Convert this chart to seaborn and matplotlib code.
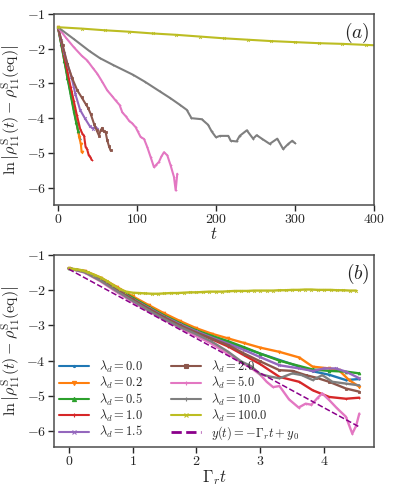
"""
Relaxation of rho_11^S towards equilibrium for several lambda_d
"""

import matplotlib
matplotlib.use('Agg')
import matplotlib.pyplot as plt
from matplotlib.lines import Line2D
import seaborn as sns

# ---------------- data: panel (a), raw time t ----------------
lam_labels = ['0.0', '0.2', '0.5', '1.0', '1.5', '2.0', '5.0', '10.0', '100.0']

t_blue = [0, 4, 8, 12, 16, 20, 24, 28]
y_blue = [-1.38, -1.85, -2.32, -2.80, -3.28, -3.74, -4.20, -4.61]
t_orange = [0, 4, 8, 12, 16, 20, 24, 27, 29, 30]
y_orange = [-1.38, -1.82, -2.30, -2.78, -3.25, -3.72, -4.20, -4.55, -4.75, -4.98]
t_green = [0, 4, 8, 12, 16, 20, 23, 25.7]
y_green = [-1.38, -1.86, -2.35, -2.85, -3.32, -3.80, -4.12, -4.38]
t_red = [0, 4, 8, 12, 16, 20, 24, 28, 31, 33, 35, 37, 39, 41, 42.6]
y_red = [-1.38, -1.78, -2.22, -2.66, -3.10, -3.50, -3.92, -4.30, -4.45, -4.50,
         -4.83, -4.90, -5.07, -5.12, -5.20]
t_purple = [0, 4, 8, 12, 17, 22, 28, 34, 40, 44, 47, 50]
y_purple = [-1.38, -1.75, -2.12, -2.45, -2.80, -3.30, -3.76, -4.00, -4.22, -4.30,
            -4.25, -4.30]
t_brown = [0, 6, 12, 18, 24.5, 30, 35, 38, 41.3, 45.6, 49, 51.9, 54, 56, 58, 60.3,
           62.4, 64.5, 66.6]
y_brown = [-1.38, -1.90, -2.44, -2.85, -3.20, -3.40, -3.59, -3.70, -3.87, -4.16,
           -4.35, -4.50, -4.35, -4.28, -4.38, -4.40, -4.64, -4.80, -4.93]
t_pink = [0, 10, 20.2, 30, 37.1, 44, 49.8, 56, 62.4, 68, 73, 78, 81.4, 86, 89.9, 94,
          98.3, 101, 104.6, 109, 113, 117.3, 121.5, 124, 127.8, 131, 134.2, 138.4,
          142.6, 146.8, 149, 151]
y_pink = [-1.38, -1.68, -1.96, -2.20, -2.34, -2.55, -2.72, -2.95, -3.20, -3.35,
          -3.49, -3.62, -3.83, -3.95, -4.07, -4.15, -4.26, -4.38, -4.54, -4.60,
          -4.83, -5.12, -5.41, -5.35, -5.26, -5.10, -4.98, -5.07, -5.36, -5.69,
          -6.08, -5.60]
t_gray = [0, 20, 40, 53, 70, 95, 110, 129, 142, 154, 163, 169, 182, 190, 194.5, 200,
          205, 215.6, 218.6, 226, 230, 239, 247, 251.5, 258, 268, 277.6, 285, 291.5,
          296.6, 300]
y_gray = [-1.38, -1.72, -2.07, -2.27, -2.47, -2.75, -2.95, -3.23, -3.42, -3.61,
          -3.76, -4.00, -4.03, -4.19, -4.38, -4.55, -4.51, -4.51, -4.65, -4.67,
          -4.51, -4.35, -4.59, -4.49, -4.59, -4.74, -4.59, -4.89, -4.74, -4.65, -4.72]
t_olive = [0, 30, 60, 90, 120, 150, 180, 210, 240, 270, 300, 330, 360, 390, 420]
y_olive = [-1.38, -1.42, -1.47, -1.51, -1.56, -1.60, -1.65, -1.70, -1.74, -1.78,
           -1.81, -1.84, -1.86, -1.89, -1.92]

# ---------------- data: panel (b), scaled time Gamma_r t ----------------
xb_a = [0, 0.25, 0.5, 0.75, 1.0, 1.25, 1.5, 1.75, 2.0, 2.25, 2.5, 2.75, 3.0, 3.3,
        3.61, 3.82, 4.08, 4.34, 4.55]
yb_blue = [-1.38, -1.46, -1.67, -1.95, -2.22, -2.48, -2.73, -2.95, -3.15, -3.32,
           -3.48, -3.64, -3.80, -3.98, -4.17, -4.30, -4.40, -4.55, -4.52]
yb_green = [-1.38, -1.46, -1.67, -1.94, -2.21, -2.47, -2.72, -2.94, -3.14, -3.30,
            -3.45, -3.62, -3.80, -4.00, -4.15, -4.25, -4.29, -4.31, -4.36]
yb_red = [-1.38, -1.47, -1.69, -1.98, -2.26, -2.52, -2.77, -3.00, -3.20, -3.40,
          -3.60, -3.85, -4.10, -4.46, -4.60, -4.84, -5.03, -5.08, -5.05]
xb_orange = [0, 0.25, 0.5, 0.75, 1.0, 1.25, 1.5, 1.75, 2.0, 2.25, 2.5, 2.75, 3.0, 3.3,
             3.61, 3.82, 4.08, 4.23, 4.39, 4.55]
yb_orange = [-1.38, -1.45, -1.64, -1.90, -2.17, -2.42, -2.66, -2.88, -3.08, -3.24,
             -3.37, -3.50, -3.63, -3.75, -3.91, -4.17, -4.22, -4.27, -4.55, -4.74]
xb_purple = [0, 0.25, 0.5, 0.75, 1.0, 1.25, 1.5, 1.75, 2.0, 2.25, 2.5, 2.75, 3.0, 3.3,
             3.61, 3.82, 4.0, 4.18, 4.34, 4.55]
yb_purple = [-1.38, -1.47, -1.69, -1.97, -2.25, -2.50, -2.75, -2.97, -3.17, -3.35,
             -3.52, -3.70, -3.90, -4.13, -4.22, -4.29, -4.22, -4.22, -4.31, -4.50]
xb_brown = [0, 0.25, 0.5, 0.75, 1.0, 1.25, 1.5, 1.75, 2.0, 2.25, 2.5, 2.75, 3.0, 3.3,
            3.51, 3.71, 3.87, 4.08, 4.34, 4.55]
yb_brown = [-1.38, -1.47, -1.69, -1.98, -2.26, -2.52, -2.77, -3.00, -3.20, -3.38,
            -3.56, -3.80, -4.02, -4.27, -4.29, -4.41, -4.48, -4.60, -4.79, -4.88]
xb_pink = [0, 0.25, 0.5, 0.75, 1.0, 1.25, 1.5, 1.75, 2.0, 2.25, 2.4, 2.55, 2.7, 2.85,
           3.0, 3.1, 3.2, 3.3, 3.45, 3.6, 3.71, 3.8, 3.9, 3.97, 4.08, 4.2, 4.34, 4.44,
           4.5, 4.55]
yb_pink = [-1.38, -1.50, -1.75, -2.05, -2.33, -2.60, -2.85, -3.08, -3.30, -3.53,
           -3.70, -3.88, -4.05, -4.20, -4.40, -4.60, -4.75, -4.72, -5.10, -5.33,
           -5.22, -5.25, -5.05, -4.93, -5.12, -5.35, -5.59, -6.07, -5.85, -5.50]
xb_gray = [0, 0.25, 0.5, 0.75, 1.0, 1.25, 1.5, 1.75, 2.0, 2.25, 2.5, 2.7, 2.85, 3.0,
           3.15, 3.3, 3.5, 3.65, 3.82, 3.97, 4.13, 4.34, 4.55]
yb_gray = [-1.38, -1.49, -1.73, -2.02, -2.30, -2.57, -2.82, -3.05, -3.25, -3.47,
           -3.75, -4.02, -4.15, -4.38, -4.45, -4.50, -4.36, -4.41, -4.55, -4.41,
           -4.60, -4.65, -4.70]
xb_olive = [0.0, 0.1, 0.2, 0.3, 0.4, 0.5, 0.6, 0.7, 0.8, 0.9, 1.0, 1.1, 1.2, 1.3, 1.4,
            1.5, 1.6, 1.7, 1.8, 1.9, 2.0, 2.1, 2.2, 2.3, 2.4, 2.5, 2.6, 2.7, 2.8, 2.9,
            3.0, 3.1, 3.2, 3.3, 3.4, 3.5, 3.6, 3.7, 3.8, 3.9, 4.0, 4.1, 4.2, 4.3, 4.4,
            4.5]
yb_olive = [-1.38, -1.40, -1.43, -1.49, -1.56, -1.64, -1.74, -1.86, -1.97, -2.04,
            -2.07, -2.08, -2.09, -2.10, -2.10, -2.09, -2.08, -2.08, -2.07, -2.06,
            -2.06, -2.05, -2.04, -2.04, -2.04, -2.03, -2.02, -2.02, -2.02, -2.01,
            -2.01, -2.01, -2.01, -2.00, -2.00, -1.99, -1.99, -1.98, -1.98, -1.99,
            -1.99, -1.99, -2.00, -2.00, -2.01, -2.01]
fit_x = [0, 4.55]
fit_y = [-1.40, -5.88]

series_a = [(t_blue, y_blue), (t_orange, y_orange), (t_green, y_green),
            (t_red, y_red), (t_purple, y_purple), (t_brown, y_brown),
            (t_pink, y_pink), (t_gray, y_gray), (t_olive, y_olive)]
series_b = [(xb_a, yb_blue), (xb_orange, yb_orange), (xb_a, yb_green),
            (xb_a, yb_red), (xb_purple, yb_purple), (xb_brown, yb_brown),
            (xb_pink, yb_pink), (xb_gray, yb_gray), (xb_olive, yb_olive)]

# ---------------- style ----------------
sns.set_style('ticks')
plt.rcParams['font.family'] = 'serif'
plt.rcParams['font.serif'] = ['cmr10', 'DejaVu Serif']
plt.rcParams['mathtext.fontset'] = 'cm'
plt.rcParams['axes.formatter.use_mathtext'] = True
plt.rcParams['axes.unicode_minus'] = True

colors = sns.color_palette('tab10')
colors = [colors[i] for i in range(9)]
markers = ['.', 'v', '^', '+', 'x', 's', '+', '+', 'x']
ylab = r'$\ln\left|\rho^{\rm S}_{11}(t)-\rho^{\rm S}_{11}({\rm eq})\right|$'

fig = plt.figure(figsize=(3.94, 4.93), dpi=100)
ax_a = fig.add_axes([54 / 394, 1 - 205 / 493, 320 / 394, 191 / 493])
ax_b = fig.add_axes([54 / 394, 1 - 447 / 493, 320 / 394, 192 / 493])

# Panel (a)
for (x, y), c, m in zip(series_a, colors, markers):
    sns.lineplot(x=x, y=y, ax=ax_a, color=c, marker=m, markersize=2,
                 markeredgewidth=0.6, markeredgecolor=c, lw=1.5,
                 sort=False, estimator=None, legend=False)
ax_a.set_xlim(-5, 400)
ax_a.set_ylim(-6.5, -1)
ax_a.set_xticks([0, 100, 200, 300, 400])
ax_a.set_yticks([-1, -2, -3, -4, -5, -6])
ax_a.set_xlabel(r'$t$', fontsize=12, labelpad=0)
ax_a.set_ylabel(ylab, fontsize=11.5, labelpad=3)
ax_a.text(0.985, 0.965, r'$(a)$', transform=ax_a.transAxes, ha='right', va='top',
          fontsize=14)

# Panel (b)
for (x, y), c, m in zip(series_b, colors, markers):
    sns.lineplot(x=x, y=y, ax=ax_b, color=c, marker=m, markersize=2,
                 markeredgewidth=0.6, markeredgecolor=c, lw=1.7,
                 sort=False, estimator=None, legend=False)
sns.lineplot(x=fit_x, y=fit_y, ax=ax_b, color='darkmagenta', lw=1.1,
             linestyle='--', sort=False, estimator=None, legend=False)
ax_b.set_xlim(-0.23, 4.78)
ax_b.set_ylim(-6.45, -1)
ax_b.set_xticks([0, 1, 2, 3, 4])
ax_b.set_yticks([-1, -2, -3, -4, -5, -6])
ax_b.set_xlabel(r'$\Gamma_r t$', fontsize=12, labelpad=0)
ax_b.set_ylabel(ylab, fontsize=11.5, labelpad=3)
ax_b.text(0.985, 0.965, r'$(b)$', transform=ax_b.transAxes, ha='right', va='top',
          fontsize=14)

labels = [r'$\lambda_d = %s$' % s for s in lam_labels] + [r'$y(t) = -\Gamma_r t + y_0$']
handles = [Line2D([], [], color=c, marker=m, markersize=3, markeredgewidth=0.8,
                  lw=1.5) for c, m in zip(colors, markers)]
handles.append(Line2D([], [], color='darkmagenta', lw=2, linestyle='--'))
ax_b.legend(handles, labels, loc='lower left', ncol=2, frameon=False,
            fontsize=9, handlelength=2.4, handletextpad=0.8,
            columnspacing=2.2, labelspacing=0.02, borderaxespad=0.2,
            borderpad=0.2)

for ax in (ax_a, ax_b):
    ax.tick_params(labelsize=10, length=4, width=1, pad=2)
    for sp in ax.spines.values():
        sp.set_color('.3')
        sp.set_linewidth(1.1)

fig.savefig('out.png', dpi=100)
